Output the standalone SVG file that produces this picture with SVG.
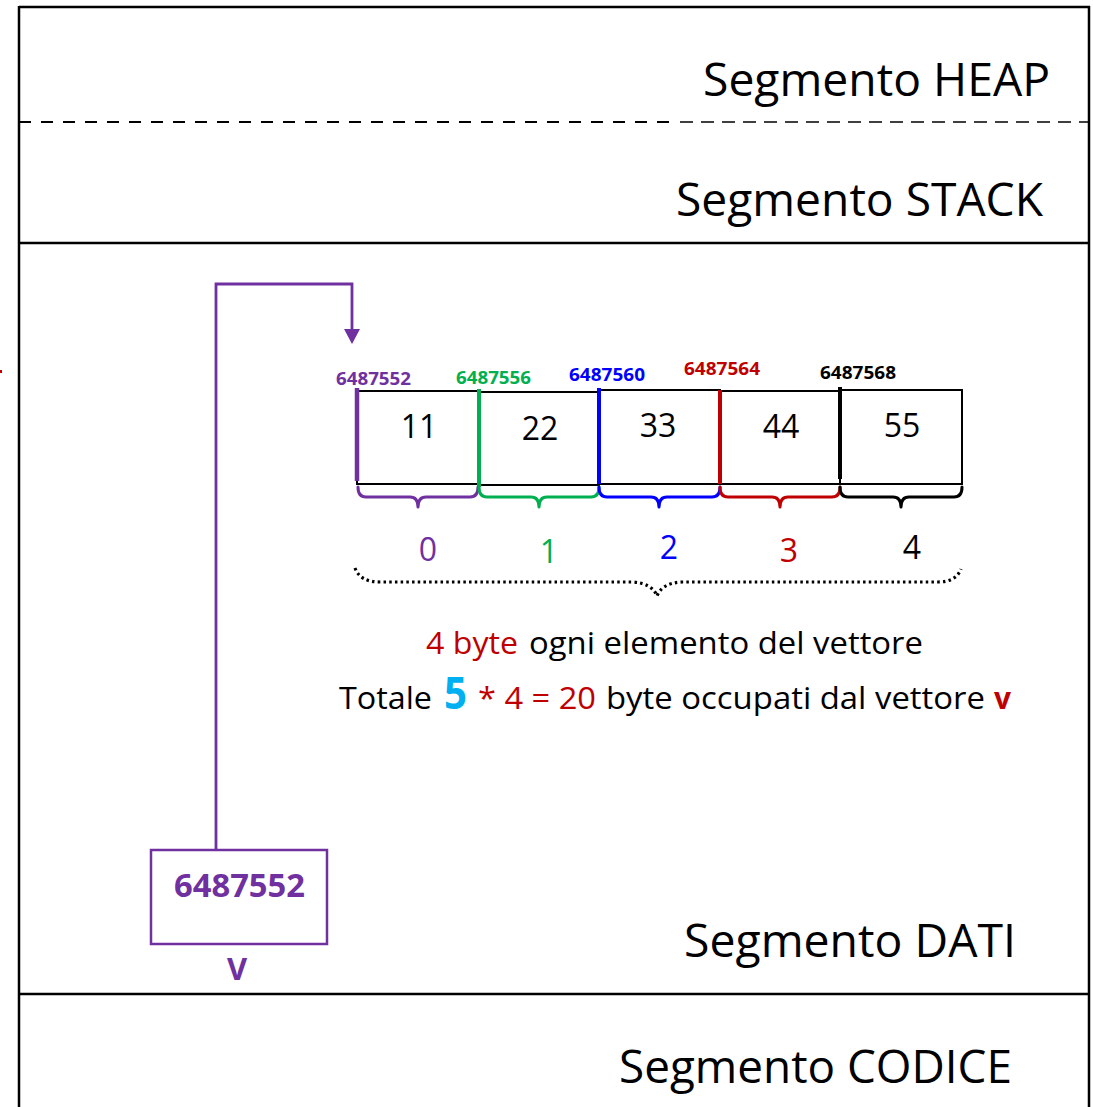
<svg xmlns="http://www.w3.org/2000/svg" width="1093" height="1107" viewBox="0 0 1093 1107">
  <style>
    text { font-family: "Open Sans", "Noto Sans", "Liberation Sans", sans-serif; }
    .seg { font-size: 46px; fill: #000; }
    .frame { stroke: #000; stroke-width: 2.5; fill: none; }
    .cell { fill: #fff; stroke: #000; stroke-width: 2; }
    .val { font-size: 32px; fill: #000; text-anchor: middle; }
    .addr { font-size: 18px; font-weight: bold; }
    .idx { font-size: 32px; text-anchor: middle; }
    .brace { fill: none; stroke-width: 3; stroke-linejoin: round; stroke-linecap: round; }
    .note { font-size: 31px; }
    .purple { fill: #7030A0; }
    .green { fill: #00B050; }
    .blue { fill: #0000FF; }
    .red { fill: #C00000; }
    .black { fill: #000; }
  </style>
  <defs>
    <marker id="arrowHead" markerUnits="userSpaceOnUse" markerWidth="16" markerHeight="16" viewBox="0 0 15 16" refX="0" refY="8" orient="auto">
      <path d="M0,0 L15,8 L0,16 z" fill="#7030A0"/>
    </marker>
  </defs>

  <rect width="1093" height="1107" fill="#fff"/>

  <!-- memory segments -->
  <g id="memory-frame">
    <line class="frame" x1="19" y1="7" x2="1090" y2="7"/>
    <line class="frame" x1="19" y1="6" x2="19" y2="1107"/>
    <line class="frame" x1="1089" y1="6" x2="1089" y2="1107"/>
    <line x1="19" y1="122" x2="672" y2="122" stroke="#000" stroke-width="2.2" stroke-dasharray="12 10"/>
    <line x1="680" y1="122" x2="1089" y2="122" stroke="#000" stroke-width="1.6" stroke-dasharray="13 8"/>
    <line class="frame" x1="19" y1="243" x2="1089" y2="243"/>
    <line class="frame" x1="19" y1="994" x2="1089" y2="994"/>
    <line x1="0" y1="371.5" x2="2" y2="371.5" stroke="#C00000" stroke-width="3"/>
  </g>

  <g id="segment-heap">
    <text class="seg" x="703" y="96" textLength="347" lengthAdjust="spacingAndGlyphs">Segmento HEAP</text>
  </g>
  <g id="segment-stack">
    <text class="seg" x="676" y="216" textLength="367" lengthAdjust="spacingAndGlyphs">Segmento STACK</text>
  </g>
  <g id="segment-dati">
    <text class="seg" x="684" y="957" textLength="332" lengthAdjust="spacingAndGlyphs">Segmento DATI</text>
  </g>
  <g id="segment-codice">
    <text class="seg" x="619" y="1083" textLength="393" lengthAdjust="spacingAndGlyphs">Segmento CODICE</text>
  </g>

  <!-- array v: five int cells -->
  <g id="cell-0">
    <rect class="cell" x="357" y="391" width="121" height="93"/>
    <line x1="357" y1="388" x2="357" y2="481" stroke="#7030A0" stroke-width="4.5"/>
    <text class="val" x="419" y="438">11</text>
    <text class="addr purple" x="336" y="385" textLength="75" lengthAdjust="spacingAndGlyphs">6487552</text>
  </g>
  <g id="cell-1">
    <rect class="cell" x="479" y="392" width="120" height="93"/>
    <line x1="479" y1="389" x2="479" y2="487" stroke="#00B050" stroke-width="4"/>
    <text class="val" x="540" y="440">22</text>
    <text class="addr green" x="456" y="384" textLength="75" lengthAdjust="spacingAndGlyphs">6487556</text>
  </g>
  <g id="cell-2">
    <rect class="cell" x="599" y="390" width="121" height="94"/>
    <line x1="599" y1="388" x2="599" y2="484" stroke="#0000FF" stroke-width="4"/>
    <text class="val" x="658" y="437">33</text>
    <text class="addr blue" x="569" y="381" textLength="76" lengthAdjust="spacingAndGlyphs">6487560</text>
  </g>
  <g id="cell-3">
    <rect class="cell" x="720" y="391" width="120" height="93"/>
    <line x1="720" y1="390" x2="720" y2="484" stroke="#C00000" stroke-width="4"/>
    <text class="val" x="781" y="438">44</text>
    <text class="addr red" x="684" y="375" textLength="76" lengthAdjust="spacingAndGlyphs">6487564</text>
  </g>
  <g id="cell-4">
    <rect class="cell" x="840" y="390" width="122" height="94"/>
    <line x1="840" y1="387" x2="840" y2="479" stroke="#000" stroke-width="4"/>
    <text class="val" x="902" y="437">55</text>
    <text class="addr black" x="820" y="379" textLength="76" lengthAdjust="spacingAndGlyphs">6487568</text>
  </g>

  <!-- index braces -->
  <g id="index-braces">
    <path class="brace" stroke="#7030A0" d="M358,487 Q358,497 366,497 L410,497 Q418,497 418,507 Q418,497 426,497 L470,497 Q478,497 478,487"/>
    <path class="brace" stroke="#00B050" d="M479,487 Q479,497 487,497 L531,497 Q539,497 539,507 Q539,497 547,497 L591,497 Q599,497 599,487"/>
    <path class="brace" stroke="#0000FF" d="M599,487 Q599,497 607,497 L651,497 Q659,497 659,507 Q659,497 667,497 L712,497 Q720,497 720,487"/>
    <path class="brace" stroke="#C00000" d="M720,487 Q720,497 728,497 L772,497 Q780,497 780,507 Q780,497 788,497 L832,497 Q840,497 840,487"/>
    <path class="brace" stroke="#000" d="M840,487 Q840,497 848,497 L893,497 Q901,497 901,507 Q901,497 909,497 L954,497 Q962,497 962,487"/>
  </g>

  <g id="indices">
    <text class="idx purple" x="428" y="561">0</text>
    <text class="idx green" x="549" y="563">1</text>
    <text class="idx blue" x="669" y="559">2</text>
    <text class="idx red" x="789" y="562">3</text>
    <text class="idx black" x="912" y="559">4</text>
  </g>

  <!-- whole-array brace -->
  <g id="array-brace">
    <path d="M355,568 Q360,582 380,582 L632,582 Q652,583 657,596 Q662,583 682,582 L938,582 Q956,582 961,569" fill="none" stroke="#000" stroke-width="3.2" stroke-dasharray="2.5 3.2"/>
  </g>

  <!-- size notes -->
  <g id="size-notes">
    <text class="note red" x="426" y="654" textLength="92" lengthAdjust="spacingAndGlyphs">4 byte</text>
    <text class="note black" x="529" y="654" textLength="394" lengthAdjust="spacingAndGlyphs">ogni elemento del vettore</text>
    <text class="note black" x="339" y="709" textLength="93" lengthAdjust="spacingAndGlyphs">Totale</text>
    <text x="444" y="709" font-size="44" font-weight="bold" fill="#00B0F0" textLength="23" lengthAdjust="spacingAndGlyphs">5</text>
    <text class="note red" x="478" y="709" textLength="118" lengthAdjust="spacingAndGlyphs">* 4 = 20</text>
    <text class="note black" x="606" y="709" textLength="379" lengthAdjust="spacingAndGlyphs">byte occupati dal vettore</text>
    <text class="note red" x="994" y="709" font-weight="bold" textLength="17" lengthAdjust="spacingAndGlyphs">v</text>
  </g>

  <!-- pointer variable v -->
  <g id="pointer-v">
    <rect x="151" y="850" width="176" height="94" fill="#fff" stroke="#7030A0" stroke-width="2.5"/>
    <text class="purple" x="174" y="897" font-size="32" font-weight="bold" textLength="131" lengthAdjust="spacingAndGlyphs">6487552</text>
    <text class="purple" x="237" y="980" font-size="31" font-weight="bold" text-anchor="middle">V</text>
  </g>

  <g id="connectors">
    <path d="M216,849 V284 H352 V329" fill="none" stroke="#7030A0" stroke-width="2.8" marker-end="url(#arrowHead)"/>
  </g>
</svg>
